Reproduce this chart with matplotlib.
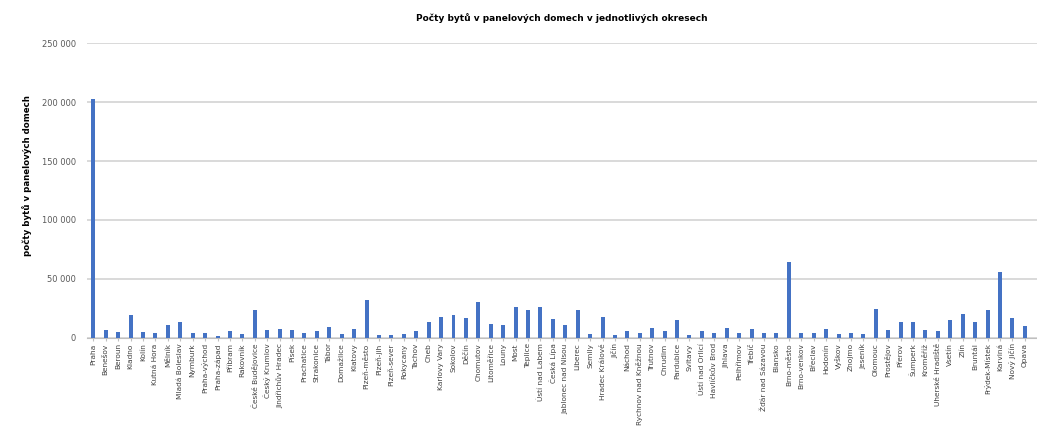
import numpy as np
import matplotlib
matplotlib.use("Agg")
import matplotlib.pyplot as plt
from matplotlib.ticker import FuncFormatter

title = "Počty bytů v panelových domech v jednotlivých okresech"
ylabel = "počty bytů v panelových domech"

okresy = [
    "Praha", "Benešov", "Beroun", "Kladno", "Kolín", "Kutná Hora", "Mělník",
    "Mladá Boleslav", "Nymburk", "Praha-východ", "Praha-západ", "Příbram",
    "Rakovník", "České Budějovice", "Český Krumlov", "Jindřichův Hradec",
    "Písek", "Prachatice", "Strakonice", "Tábor", "Domažlice", "Klatovy",
    "Plzeň-město", "Plzeň-jih", "Plzeň-sever", "Rokycany", "Tachov", "Cheb",
    "Karlovy Vary", "Sokolov", "Děčín", "Chomutov", "Litoměřice", "Louny",
    "Most", "Teplice", "Ústí nad Labem", "Česká Lípa", "Jablonec nad Nisou",
    "Liberec", "Semily", "Hradec Králové", "Jičín", "Náchod",
    "Rychnov nad Kněžnou", "Trutnov", "Chrudim", "Pardubice", "Svitavy",
    "Ústí nad Orlicí", "Havlíčkův Brod", "Jihlava", "Pelhřimov", "Třebíč",
    "Žďár nad Sázavou", "Blansko", "Brno-město", "Brno-venkov", "Břeclav",
    "Hodonín", "Vyškov", "Znojmo", "Jeseník", "Olomouc", "Prostějov",
    "Přerov", "Šumperk", "Kroměříž", "Uherské Hradiště", "Vsetín", "Zlín",
    "Bruntál", "Frýdek-Místek", "Karviná", "Nový Jičín", "Opava",
]

byty = [
    203000, 6500, 5200, 19500, 5200, 4300, 10500,
    13500, 4000, 4300, 1600, 6100,
    3000, 23800, 6500, 7200,
    6500, 4000, 5900, 9000, 3400, 7600,
    32000, 2500, 2500, 3400, 6200, 13200,
    17500, 19500, 16600, 30000, 11800, 11000,
    26500, 23700, 26500, 15800, 11200,
    23700, 3400, 17500, 2500, 6200,
    4500, 8200, 5400, 15300, 2500,
    6200, 4000, 8200, 4000, 7300,
    4000, 4000, 64500, 4500, 4000,
    7600, 3400, 4500, 3100, 24300, 6800,
    13800, 13000, 6800, 6200, 15300, 20300,
    13000, 23700, 55500, 16600, 10200,
]

fig = plt.figure(figsize=(10.37, 4.41), dpi=100)
ax = fig.add_axes([0.084, 0.234, 0.916, 0.668])

x = np.arange(len(okresy))
ax.bar(x, byty, width=0.32, color="#4472C4", zorder=3)

ax.set_xlim(-0.5, 75.98)
ax.set_ylim(0, 250000)
ax.set_yticks(np.arange(0, 250001, 50000))
ax.yaxis.set_major_formatter(FuncFormatter(lambda v, p: f"{int(v):,}".replace(",", " ")))
ax.grid(axis="y", color="#d9d9d9", linewidth=1.4, zorder=0)

ax.set_xticks(x)
ax.set_xticklabels(okresy, rotation=90, fontsize=5.3, color="#404040")
ax.tick_params(axis="y", length=0, labelsize=6, labelcolor="#595959", pad=8)
ax.tick_params(axis="x", length=2, color="#bfbfbf", pad=2)

for s in ["top", "right", "left"]:
    ax.spines[s].set_visible(False)
ax.spines["bottom"].set_color("#bfbfbf")

ax.set_title(title, fontsize=6.5, fontweight="bold", pad=16)
ax.set_ylabel(ylabel, fontsize=6.2, fontweight="bold")
ax.yaxis.set_label_coords(-0.058, 0.55)

fig.savefig("out.png", dpi=100)
